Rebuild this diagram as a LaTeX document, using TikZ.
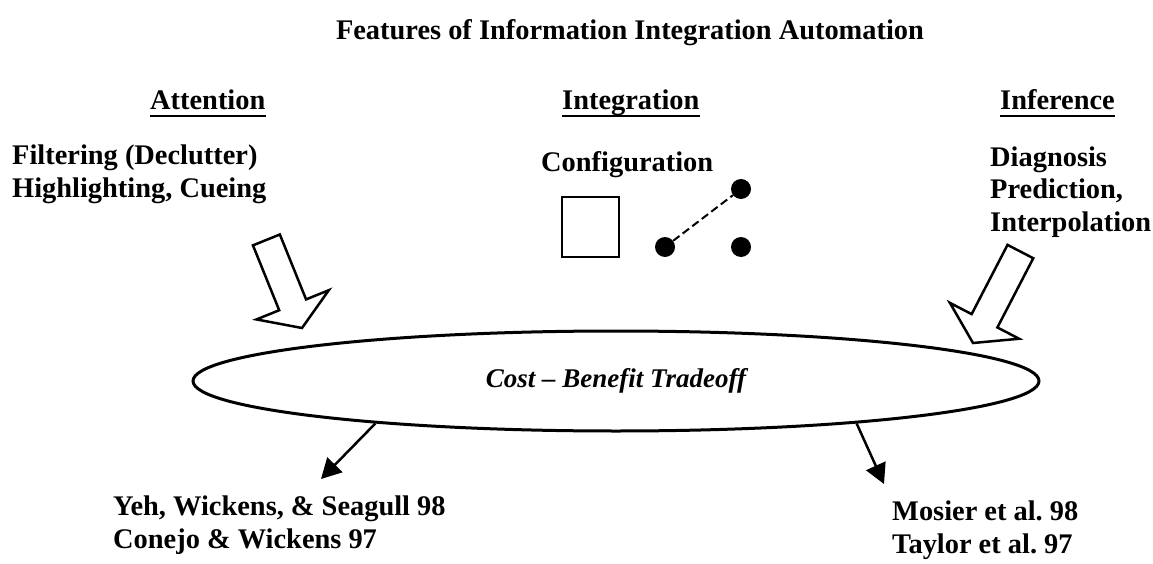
\documentclass[tikz,border=0pt]{standalone}
\usepackage{fontspec}
\setmainfont{Liberation Serif}
\usetikzlibrary{shapes.geometric,arrows.meta}
\frenchspacing
\newcommand\hollowarrow[3]{%
  \draw[harrow,shift={#1},rotate=#2] (0,0) -- (-25,39) -- (-25,14.5) -- (-#3,14.5)
    -- (-#3,-14.5) -- (-25,-14.5) -- (-25,-39) -- cycle;}
\begin{document}
\begin{tikzpicture}[x=1pt,y=1pt,
  txt/.style={font=\bfseries\fontsize{28.4}{32}\selectfont, inner sep=0pt, anchor=base west},
  head/.style={txt},
  uline/.style={line width=2pt},
  harrow/.style={draw=black, fill=white, line width=2.5pt, line join=miter},
  dot/.style={circle, fill=black, inner sep=0pt, minimum size=20pt},
  thin arrow/.style={line width=2.5pt, -{Triangle[length=20pt,width=21pt]}},
]
\useasboundingbox (0,0) rectangle (1153,-564);
% title
\node[txt, anchor=base] (title) at (630,-40) {Features of Information Integration Automation};
% headings
\node[head] (att) at (150,-110) {Attention};
\node[head] (int) at (562,-110) {Integration};
\node[head] (inf) at (1000,-110) {Inference};
\foreach \n in {att,int,inf}
  \draw[uline] ([yshift=-6pt]\n.base west) -- ([yshift=-6pt]\n.base east);
% left column
\node[txt] (filt) at (12,-165) {Filtering (Declutter)};
\node[txt] (high) at (12,-197) {Highlighting, Cueing};
% middle
\node[txt] (conf) at (541,-172) {Configuration};
\node[draw, line width=2pt, minimum width=57pt, minimum height=60pt, inner sep=0pt] (sq) at (590.5,-227) {};
\node[dot] (d1) at (665,-247) {};
\node[dot] (d2) at (741,-189) {};
\node[dot] (d3) at (741,-247) {};
\draw[line width=2pt, dash pattern=on 8pt off 4pt] (d1) -- (d2);
% right column
\node[txt] (diag) at (990,-167) {Diagnosis};
\node[txt] (pred) at (990,-199) {Prediction,};
\node[txt] (interp) at (990,-231) {Interpolation};
% ellipse
\node[ellipse, draw, line width=3pt, minimum width=846pt, minimum height=100pt, inner sep=0pt,
  font=\bfseries\itshape\fontsize{27}{30}\selectfont] (ell) at (616,-381) {Cost -- Benefit Tradeoff};
% hollow arrows
\hollowarrow{(302,-328)}{-68}{95}
\hollowarrow{(973,-343)}{-117.4}{103}
% references
\coordinate (tl) at (321,-479);
\coordinate (tr) at (884,-484);
\draw[thin arrow] (ell.190) -- (tl);
\draw[thin arrow] (ell.-10) -- (tr);
\node[txt] (yeh) at (113,-515) {Yeh, Wickens, \& Seagull 98};
\node[txt] (con) at (113,-548) {Conejo \& Wickens 97};
\node[txt] (mos) at (892,-520) {Mosier et al. 98};
\node[txt] (tay) at (892,-553) {Taylor et al. 97};
\end{tikzpicture}
\end{document}
